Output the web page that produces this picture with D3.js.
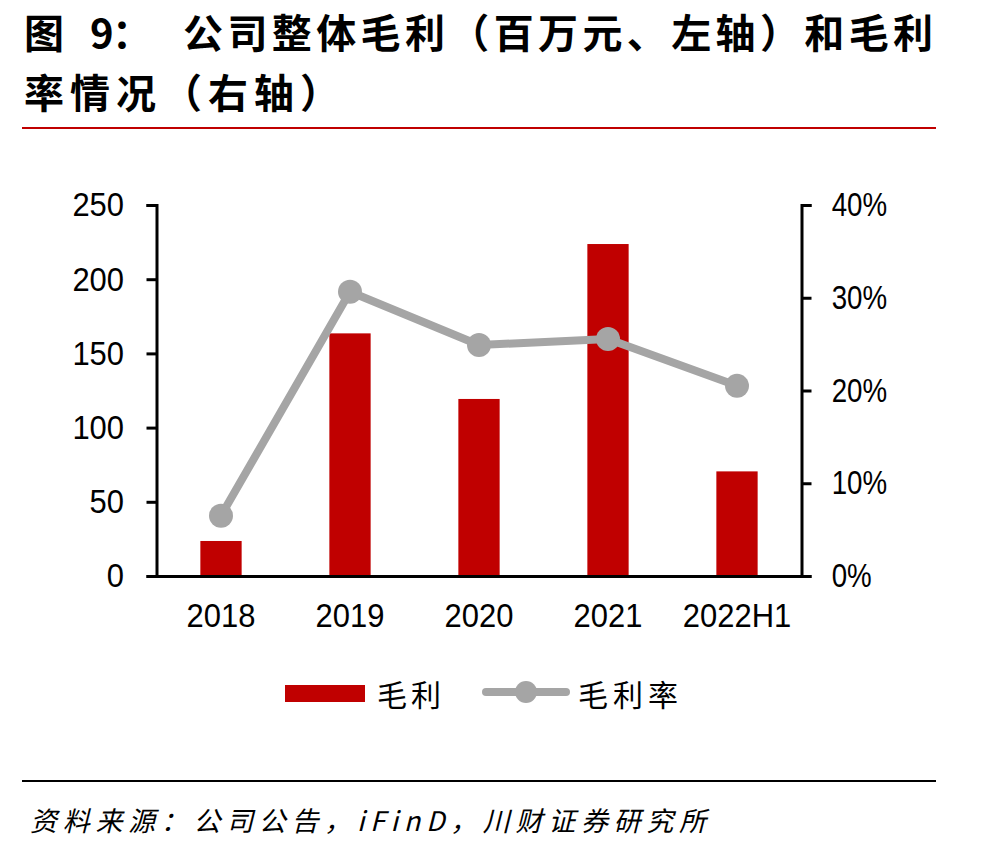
<!DOCTYPE html>
<html>
<head>
<meta charset="utf-8">
<script src="https://cdn.jsdelivr.net/npm/d3@7"></script>
<style>
  html, body { margin: 0; padding: 0; background: #fff; }
  svg { display: block; }
</style>
</head>
<body>
<svg id="chart" width="1003" height="852"></svg>
<script>
const categories = ["2018", "2019", "2020", "2021", "2022H1"];
const grossProfit = [23.6, 163.5, 119.3, 223.7, 70.5];
const grossMargin = [0.065, 0.3065, 0.249, 0.2555, 0.205];
const leftTicks = [0, 50, 100, 150, 200, 250];
const rightTicks = [0, 0.1, 0.2, 0.3, 0.4];
const titleHead = ["图", "9", "："];
const titleLine1 = "公司整体毛利（百万元、左轴）和毛利";
const titleLine2 = "率情况（右轴）";
const legendLabels = ["毛利", "毛利率"];
const sourceText = "资料来源：公司公告，iFinD，川财证券研究所";

const RED = "#C00000";
const GREY = "#A5A5A5";
const CJK = "'Noto Sans CJK SC', sans-serif";
const LATIN = "'Liberation Sans', Arial, sans-serif";

const svg = d3.select("#chart");

// Title
const titleFont = t => t.attr("font-family", CJK).attr("font-weight", "bold")
  .attr("font-size", 40).attr("fill", "#000");
const headX = [24, 90, 112];
titleHead.forEach((s, i) => {
  svg.append("text").attr("x", headX[i]).attr("y", 48).call(titleFont).text(s);
});
svg.append("text")
  .attr("x", 183).attr("y", 48).call(titleFont)
  .attr("textLength", 750).attr("lengthAdjust", "spacing")
  .text(titleLine1);
svg.append("text")
  .attr("x", 24).attr("y", 108).call(titleFont)
  .attr("letter-spacing", "6px")
  .text(titleLine2);
svg.append("line")
  .attr("x1", 22).attr("x2", 936).attr("y1", 128).attr("y2", 128)
  .attr("stroke", RED).attr("stroke-width", 2);

// Scales
const x = d3.scaleBand().domain(categories).range([156.5, 801.5])
  .paddingInner(0.68).paddingOuter(0.34);
const yL = d3.scaleLinear().domain([0, 250]).range([576, 205]);
const yR = d3.scaleLinear().domain([0, 0.4]).range([576, 205]);

// Bars
svg.append("g").selectAll("rect").data(categories).join("rect")
  .attr("x", d => x(d))
  .attr("width", x.bandwidth())
  .attr("y", (d, i) => yL(grossProfit[i]))
  .attr("height", (d, i) => yL(0) - yL(grossProfit[i]))
  .attr("fill", RED);

// X axis
const xAxis = svg.append("g").attr("transform", "translate(0,576)")
  .call(d3.axisBottom(x).tickSize(0).tickPadding(27));
xAxis.select(".domain").attr("stroke", "#000").attr("stroke-width", 3);
xAxis.selectAll("text").attr("font-family", LATIN).attr("font-size", 34)
  .attr("transform", "scale(0.91,1)").attr("fill", "#000");

// Left axis
const lAxis = svg.append("g").attr("transform", "translate(156.5,0)")
  .call(d3.axisLeft(yL).tickValues(leftTicks).tickSize(10).tickSizeOuter(10).tickPadding(22));
lAxis.select(".domain").attr("stroke", "#000").attr("stroke-width", 3);
lAxis.selectAll(".tick line").attr("stroke", "#000").attr("stroke-width", 3);
lAxis.selectAll("text").attr("font-family", LATIN).attr("font-size", 34)
  .attr("x", -32.5 / 0.91).attr("transform", "scale(0.91,1)").attr("fill", "#000");

// Right axis
const rAxis = svg.append("g").attr("transform", "translate(801.5,0)")
  .call(d3.axisRight(yR).tickValues(rightTicks).tickFormat(d3.format(".0%"))
    .tickSize(10).tickSizeOuter(10).tickPadding(20));
rAxis.select(".domain").attr("stroke", "#000").attr("stroke-width", 3);
rAxis.selectAll(".tick line").attr("stroke", "#000").attr("stroke-width", 3);
rAxis.selectAll("text").attr("font-family", LATIN).attr("font-size", 33)
  .attr("x", 30.2 / 0.84).attr("transform", "scale(0.84,1)").attr("fill", "#000");

// Line
const cx = d => x(d) + x.bandwidth() / 2;
const line = d3.line().x((d, i) => cx(categories[i])).y(d => yR(d));
svg.append("path").datum(grossMargin)
  .attr("d", line).attr("fill", "none")
  .attr("stroke", GREY).attr("stroke-width", 8).attr("stroke-linejoin", "round");
svg.append("g").selectAll("circle").data(grossMargin).join("circle")
  .attr("cx", (d, i) => cx(categories[i]))
  .attr("cy", d => yR(d))
  .attr("r", 12)
  .attr("fill", GREY);

// Legend
const lg = svg.append("g");
lg.append("rect").attr("x", 285).attr("y", 685).attr("width", 80).attr("height", 17).attr("fill", RED);
lg.append("text").attr("x", 377).attr("y", 706)
  .attr("font-family", CJK).attr("font-size", 30).attr("letter-spacing", "4px")
  .attr("fill", "#000").text(legendLabels[0]);
lg.append("line").attr("x1", 486).attr("x2", 566).attr("y1", 692).attr("y2", 692)
  .attr("stroke", GREY).attr("stroke-width", 8).attr("stroke-linecap", "round");
lg.append("circle").attr("cx", 526).attr("cy", 692).attr("r", 11).attr("fill", GREY);
lg.append("text").attr("x", 578).attr("y", 706)
  .attr("font-family", CJK).attr("font-size", 30).attr("letter-spacing", "5px")
  .attr("fill", "#000").text(legendLabels[1]);

// Bottom rule and source
svg.append("line")
  .attr("x1", 22).attr("x2", 936).attr("y1", 781).attr("y2", 781)
  .attr("stroke", "#000").attr("stroke-width", 2);
svg.append("text")
  .attr("x", 30).attr("y", 831)
  .attr("font-family", CJK).attr("font-style", "italic").attr("font-size", 27)
  .attr("textLength", 676).attr("lengthAdjust", "spacing")
  .attr("fill", "#000").text(sourceText);
</script>
</body>
</html>
